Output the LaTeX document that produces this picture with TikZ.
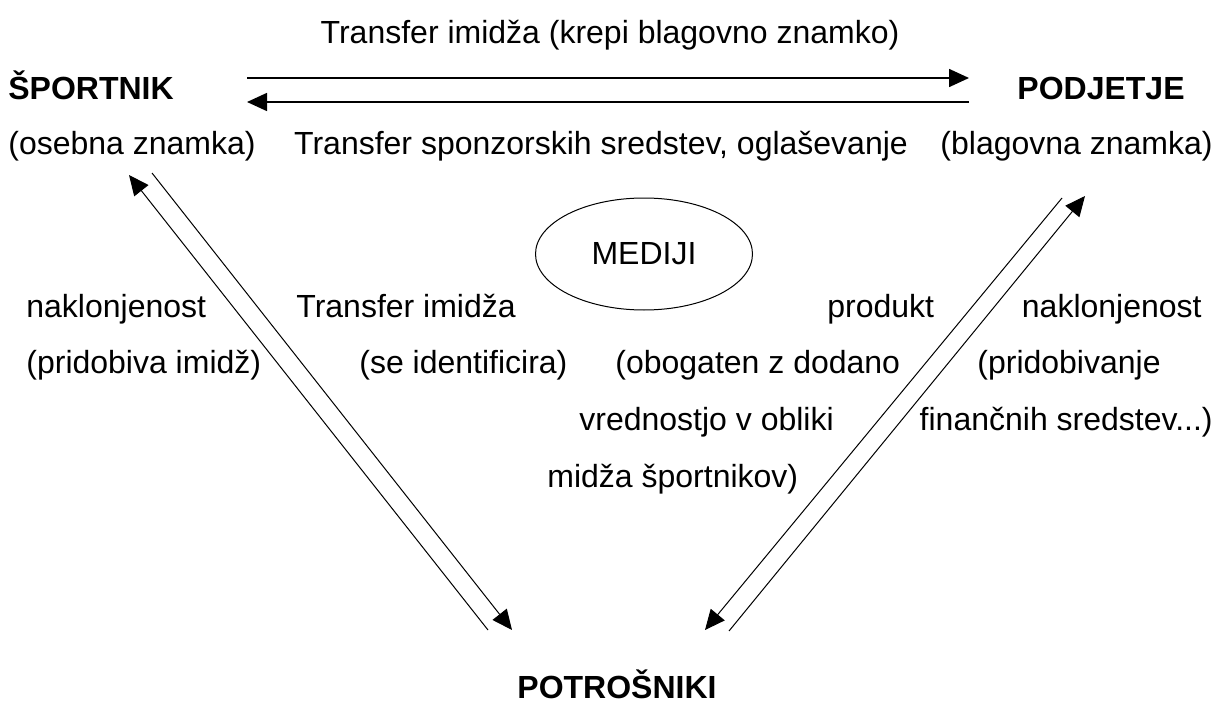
\documentclass[tikz,border=0pt]{standalone}
\usepackage{fontspec}
\setmainfont{Liberation Sans}
\usepackage{tikz}
\usetikzlibrary{arrows.meta,shapes.geometric}

\begin{document}
\begin{tikzpicture}[x=0.5pt,y=-0.5pt]
		\tikzset{>={Triangle[length=10pt,width=9pt]}}
		\tikzset{txt/.style={inner sep=0pt,font=\fontsize{16}{19}\selectfont},
			naslov/.style={txt,font=\fontsize{16}{19}\selectfont\bfseries},
			tok/.style={->,line width=0.8pt},
			diag/.style={->,line width=0.5pt}}
		
		\useasboundingbox (0,0) rectangle (1220,706);
		
		% zgoraj
		\node[txt,anchor=base] (tri) at (610,44) {Transfer imidža (krepi blagovno znamko)};
		\node[naslov,anchor=base west] (sport) at (8,99) {ŠPORTNIK};
		\node[naslov,anchor=base] (podj) at (1101,99) {PODJETJE};
		\node[txt,anchor=base west] (osebna) at (8,155) {(osebna znamka)};
		\node[txt,anchor=base] (tss) at (601,155) {Transfer sponzorskih sredstev, oglaševanje};
		\node[txt,anchor=base east] (blag) at (1213,155) {(blagovna znamka)};
		
		\coordinate (t1) at (247,78);
		\coordinate (t2) at (969,78);
		\coordinate (b1) at (969,102);
		\coordinate (b2) at (247,102);
		\draw[tok] (t1) -- (t2);
		\draw[tok] (b1) -- (b2);
		
		% mediji
		\node[draw,ellipse,line width=0.5pt,minimum width=108.5pt,minimum height=56pt,txt] (med) at (644,254) {MEDIJI};
		
		% levo
		\node[txt,anchor=base west] (nak1) at (26,317) {naklonjenost};
		\node[txt,anchor=base west] (prid1) at (26,373) {(pridobiva imidž)};
		\node[txt,anchor=base west] (tri2) at (296,317) {Transfer imidža};
		\node[txt,anchor=base west] (ident) at (359,373) {(se identificira)};
		
		% desno
		\node[txt,anchor=base west] (prod) at (827,317) {produkt};
		\node[txt,anchor=base west] (obog) at (615,373) {(obogaten z dodano};
		\node[txt,anchor=base west] (vred) at (579,430) {vrednostjo v obliki};
		\node[txt,anchor=base west] (midz) at (547,487) {midža športnikov)};
		\node[txt,anchor=base east] (nak2) at (1202,317) {naklonjenost};
		\node[txt,anchor=base west] (prid2) at (977,373) {(pridobivanje};
		\node[txt,anchor=base east] (fin) at (1213,430) {finančnih sredstev...)};
		
		\node[naslov,anchor=base] (potr) at (617,698) {POTROŠNIKI};
		
		\coordinate (l1) at (488,630);
		\coordinate (l2) at (129,175);
		\coordinate (l3) at (152,173);
		\coordinate (l4) at (512,630);
		\draw[diag] (l1) -- (l2);
		\draw[diag] (l3) -- (l4);
		
		\coordinate (r1) at (1062,198);
		\coordinate (r2) at (705,630);
		\coordinate (r3) at (729,631);
		\coordinate (r4) at (1085,196);
		\draw[diag] (r1) -- (r2);
		\draw[diag] (r3) -- (r4);
		
	\end{tikzpicture}
\end{document}
